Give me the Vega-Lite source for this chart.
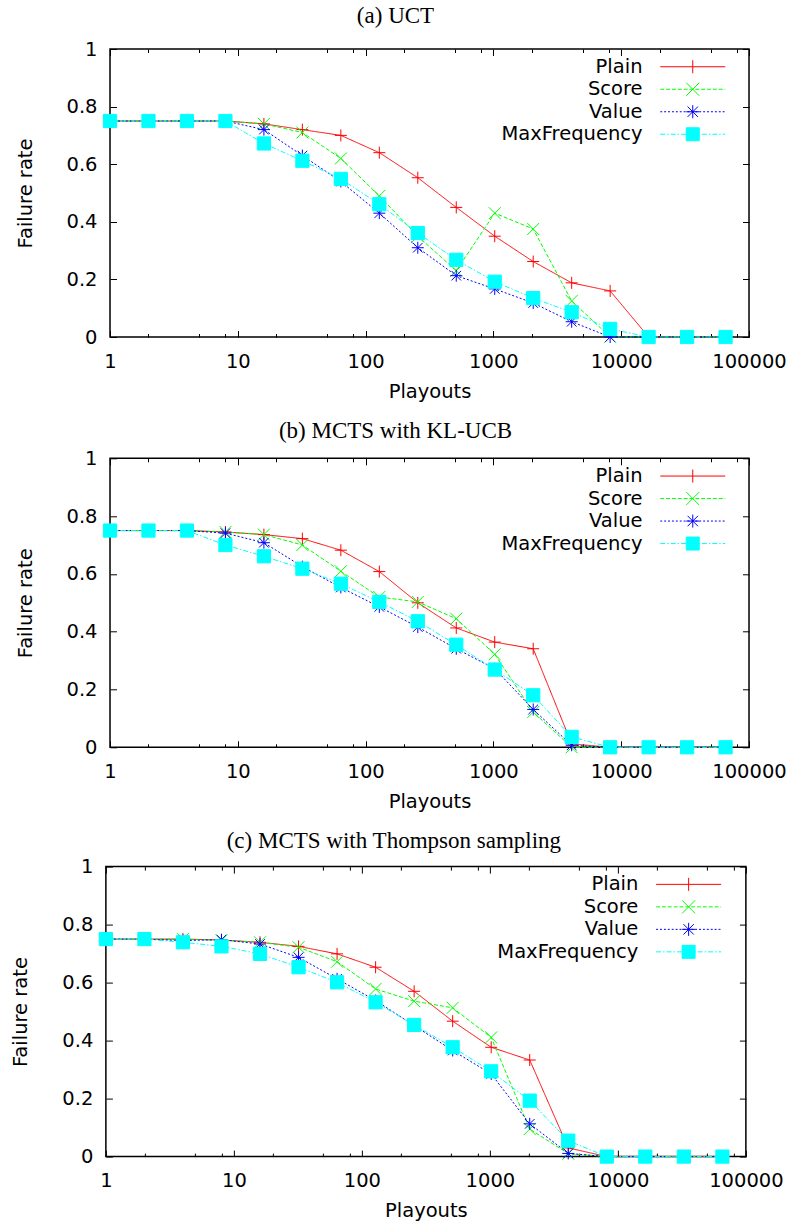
{
  "$schema": "https://vega.github.io/schema/vega-lite/v6.json",
  "background": "white",
  "padding": {"left": 9.5, "top": 4, "right": 0, "bottom": 0},
  "data": {"values": [
    {"panel":"a","series":"Plain","playouts":1,"rate":0.75},{"panel":"a","series":"Plain","playouts":2,"rate":0.75},{"panel":"a","series":"Plain","playouts":4,"rate":0.75},{"panel":"a","series":"Plain","playouts":8,"rate":0.75},{"panel":"a","series":"Plain","playouts":16,"rate":0.74},{"panel":"a","series":"Plain","playouts":32,"rate":0.72},{"panel":"a","series":"Plain","playouts":64,"rate":0.7},{"panel":"a","series":"Plain","playouts":128,"rate":0.64},{"panel":"a","series":"Plain","playouts":256,"rate":0.553},{"panel":"a","series":"Plain","playouts":512,"rate":0.45},{"panel":"a","series":"Plain","playouts":1024,"rate":0.35},{"panel":"a","series":"Plain","playouts":2048,"rate":0.262},{"panel":"a","series":"Plain","playouts":4096,"rate":0.188},{"panel":"a","series":"Plain","playouts":8192,"rate":0.16},{"panel":"a","series":"Plain","playouts":16384,"rate":0},{"panel":"a","series":"Plain","playouts":32768,"rate":0},{"panel":"a","series":"Plain","playouts":65536,"rate":0},
    {"panel":"a","series":"Score","playouts":1,"rate":0.75},{"panel":"a","series":"Score","playouts":2,"rate":0.75},{"panel":"a","series":"Score","playouts":4,"rate":0.75},{"panel":"a","series":"Score","playouts":8,"rate":0.75},{"panel":"a","series":"Score","playouts":16,"rate":0.74},{"panel":"a","series":"Score","playouts":32,"rate":0.71},{"panel":"a","series":"Score","playouts":64,"rate":0.62},{"panel":"a","series":"Score","playouts":128,"rate":0.49},{"panel":"a","series":"Score","playouts":256,"rate":0.35},{"panel":"a","series":"Score","playouts":512,"rate":0.23},{"panel":"a","series":"Score","playouts":1024,"rate":0.43},{"panel":"a","series":"Score","playouts":2048,"rate":0.375},{"panel":"a","series":"Score","playouts":4096,"rate":0.125},{"panel":"a","series":"Score","playouts":8192,"rate":0},{"panel":"a","series":"Score","playouts":16384,"rate":0},{"panel":"a","series":"Score","playouts":32768,"rate":0},{"panel":"a","series":"Score","playouts":65536,"rate":0},
    {"panel":"a","series":"Value","playouts":1,"rate":0.75},{"panel":"a","series":"Value","playouts":2,"rate":0.75},{"panel":"a","series":"Value","playouts":4,"rate":0.75},{"panel":"a","series":"Value","playouts":8,"rate":0.75},{"panel":"a","series":"Value","playouts":16,"rate":0.72},{"panel":"a","series":"Value","playouts":32,"rate":0.63},{"panel":"a","series":"Value","playouts":64,"rate":0.54},{"panel":"a","series":"Value","playouts":128,"rate":0.43},{"panel":"a","series":"Value","playouts":256,"rate":0.31},{"panel":"a","series":"Value","playouts":512,"rate":0.213},{"panel":"a","series":"Value","playouts":1024,"rate":0.167},{"panel":"a","series":"Value","playouts":2048,"rate":0.118},{"panel":"a","series":"Value","playouts":4096,"rate":0.053},{"panel":"a","series":"Value","playouts":8192,"rate":0},{"panel":"a","series":"Value","playouts":16384,"rate":0},{"panel":"a","series":"Value","playouts":32768,"rate":0},{"panel":"a","series":"Value","playouts":65536,"rate":0},
    {"panel":"a","series":"MaxFrequency","playouts":1,"rate":0.75},{"panel":"a","series":"MaxFrequency","playouts":2,"rate":0.75},{"panel":"a","series":"MaxFrequency","playouts":4,"rate":0.75},{"panel":"a","series":"MaxFrequency","playouts":8,"rate":0.75},{"panel":"a","series":"MaxFrequency","playouts":16,"rate":0.672},{"panel":"a","series":"MaxFrequency","playouts":32,"rate":0.612},{"panel":"a","series":"MaxFrequency","playouts":64,"rate":0.549},{"panel":"a","series":"MaxFrequency","playouts":128,"rate":0.461},{"panel":"a","series":"MaxFrequency","playouts":256,"rate":0.361},{"panel":"a","series":"MaxFrequency","playouts":512,"rate":0.268},{"panel":"a","series":"MaxFrequency","playouts":1024,"rate":0.192},{"panel":"a","series":"MaxFrequency","playouts":2048,"rate":0.135},{"panel":"a","series":"MaxFrequency","playouts":4096,"rate":0.086},{"panel":"a","series":"MaxFrequency","playouts":8192,"rate":0.028},{"panel":"a","series":"MaxFrequency","playouts":16384,"rate":0},{"panel":"a","series":"MaxFrequency","playouts":32768,"rate":0},{"panel":"a","series":"MaxFrequency","playouts":65536,"rate":0},
    {"panel":"b","series":"Plain","playouts":1,"rate":0.75},{"panel":"b","series":"Plain","playouts":2,"rate":0.75},{"panel":"b","series":"Plain","playouts":4,"rate":0.75},{"panel":"b","series":"Plain","playouts":8,"rate":0.745},{"panel":"b","series":"Plain","playouts":16,"rate":0.736},{"panel":"b","series":"Plain","playouts":32,"rate":0.722},{"panel":"b","series":"Plain","playouts":64,"rate":0.682},{"panel":"b","series":"Plain","playouts":128,"rate":0.608},{"panel":"b","series":"Plain","playouts":256,"rate":0.5},{"panel":"b","series":"Plain","playouts":512,"rate":0.413},{"panel":"b","series":"Plain","playouts":1024,"rate":0.364},{"panel":"b","series":"Plain","playouts":2048,"rate":0.341},{"panel":"b","series":"Plain","playouts":4096,"rate":0.012},{"panel":"b","series":"Plain","playouts":8192,"rate":0},{"panel":"b","series":"Plain","playouts":16384,"rate":0},{"panel":"b","series":"Plain","playouts":32768,"rate":0},{"panel":"b","series":"Plain","playouts":65536,"rate":0},
    {"panel":"b","series":"Score","playouts":1,"rate":0.75},{"panel":"b","series":"Score","playouts":2,"rate":0.75},{"panel":"b","series":"Score","playouts":4,"rate":0.75},{"panel":"b","series":"Score","playouts":8,"rate":0.745},{"panel":"b","series":"Score","playouts":16,"rate":0.736},{"panel":"b","series":"Score","playouts":32,"rate":0.7},{"panel":"b","series":"Score","playouts":64,"rate":0.609},{"panel":"b","series":"Score","playouts":128,"rate":0.52},{"panel":"b","series":"Score","playouts":256,"rate":0.503},{"panel":"b","series":"Score","playouts":512,"rate":0.445},{"panel":"b","series":"Score","playouts":1024,"rate":0.322},{"panel":"b","series":"Score","playouts":2048,"rate":0.122},{"panel":"b","series":"Score","playouts":4096,"rate":0},{"panel":"b","series":"Score","playouts":8192,"rate":0},{"panel":"b","series":"Score","playouts":16384,"rate":0},{"panel":"b","series":"Score","playouts":32768,"rate":0},{"panel":"b","series":"Score","playouts":65536,"rate":0},
    {"panel":"b","series":"Value","playouts":1,"rate":0.75},{"panel":"b","series":"Value","playouts":2,"rate":0.75},{"panel":"b","series":"Value","playouts":4,"rate":0.75},{"panel":"b","series":"Value","playouts":8,"rate":0.741},{"panel":"b","series":"Value","playouts":16,"rate":0.708},{"panel":"b","series":"Value","playouts":32,"rate":0.625},{"panel":"b","series":"Value","playouts":64,"rate":0.553},{"panel":"b","series":"Value","playouts":128,"rate":0.486},{"panel":"b","series":"Value","playouts":256,"rate":0.416},{"panel":"b","series":"Value","playouts":512,"rate":0.341},{"panel":"b","series":"Value","playouts":1024,"rate":0.272},{"panel":"b","series":"Value","playouts":2048,"rate":0.131},{"panel":"b","series":"Value","playouts":4096,"rate":0.007},{"panel":"b","series":"Value","playouts":8192,"rate":0},{"panel":"b","series":"Value","playouts":16384,"rate":0},{"panel":"b","series":"Value","playouts":32768,"rate":0},{"panel":"b","series":"Value","playouts":65536,"rate":0},
    {"panel":"b","series":"MaxFrequency","playouts":1,"rate":0.75},{"panel":"b","series":"MaxFrequency","playouts":2,"rate":0.75},{"panel":"b","series":"MaxFrequency","playouts":4,"rate":0.75},{"panel":"b","series":"MaxFrequency","playouts":8,"rate":0.7},{"panel":"b","series":"MaxFrequency","playouts":16,"rate":0.661},{"panel":"b","series":"MaxFrequency","playouts":32,"rate":0.618},{"panel":"b","series":"MaxFrequency","playouts":64,"rate":0.566},{"panel":"b","series":"MaxFrequency","playouts":128,"rate":0.503},{"panel":"b","series":"MaxFrequency","playouts":256,"rate":0.436},{"panel":"b","series":"MaxFrequency","playouts":512,"rate":0.355},{"panel":"b","series":"MaxFrequency","playouts":1024,"rate":0.269},{"panel":"b","series":"MaxFrequency","playouts":2048,"rate":0.18},{"panel":"b","series":"MaxFrequency","playouts":4096,"rate":0.036},{"panel":"b","series":"MaxFrequency","playouts":8192,"rate":0},{"panel":"b","series":"MaxFrequency","playouts":16384,"rate":0},{"panel":"b","series":"MaxFrequency","playouts":32768,"rate":0},{"panel":"b","series":"MaxFrequency","playouts":65536,"rate":0},
    {"panel":"c","series":"Plain","playouts":1,"rate":0.75},{"panel":"c","series":"Plain","playouts":2,"rate":0.75},{"panel":"c","series":"Plain","playouts":4,"rate":0.75},{"panel":"c","series":"Plain","playouts":8,"rate":0.747},{"panel":"c","series":"Plain","playouts":16,"rate":0.739},{"panel":"c","series":"Plain","playouts":32,"rate":0.725},{"panel":"c","series":"Plain","playouts":64,"rate":0.699},{"panel":"c","series":"Plain","playouts":128,"rate":0.653},{"panel":"c","series":"Plain","playouts":256,"rate":0.57},{"panel":"c","series":"Plain","playouts":512,"rate":0.467},{"panel":"c","series":"Plain","playouts":1024,"rate":0.377},{"panel":"c","series":"Plain","playouts":2048,"rate":0.333},{"panel":"c","series":"Plain","playouts":4096,"rate":0.03},{"panel":"c","series":"Plain","playouts":8192,"rate":0},{"panel":"c","series":"Plain","playouts":16384,"rate":0},{"panel":"c","series":"Plain","playouts":32768,"rate":0},{"panel":"c","series":"Plain","playouts":65536,"rate":0},
    {"panel":"c","series":"Score","playouts":1,"rate":0.75},{"panel":"c","series":"Score","playouts":2,"rate":0.75},{"panel":"c","series":"Score","playouts":4,"rate":0.75},{"panel":"c","series":"Score","playouts":8,"rate":0.746},{"panel":"c","series":"Score","playouts":16,"rate":0.739},{"panel":"c","series":"Score","playouts":32,"rate":0.722},{"panel":"c","series":"Score","playouts":64,"rate":0.672},{"panel":"c","series":"Score","playouts":128,"rate":0.578},{"panel":"c","series":"Score","playouts":256,"rate":0.536},{"panel":"c","series":"Score","playouts":512,"rate":0.513},{"panel":"c","series":"Score","playouts":1024,"rate":0.411},{"panel":"c","series":"Score","playouts":2048,"rate":0.095},{"panel":"c","series":"Score","playouts":4096,"rate":0.01},{"panel":"c","series":"Score","playouts":8192,"rate":0},{"panel":"c","series":"Score","playouts":16384,"rate":0},{"panel":"c","series":"Score","playouts":32768,"rate":0},{"panel":"c","series":"Score","playouts":65536,"rate":0},
    {"panel":"c","series":"Value","playouts":1,"rate":0.75},{"panel":"c","series":"Value","playouts":2,"rate":0.75},{"panel":"c","series":"Value","playouts":4,"rate":0.745},{"panel":"c","series":"Value","playouts":8,"rate":0.748},{"panel":"c","series":"Value","playouts":16,"rate":0.733},{"panel":"c","series":"Value","playouts":32,"rate":0.687},{"panel":"c","series":"Value","playouts":64,"rate":0.613},{"panel":"c","series":"Value","playouts":128,"rate":0.538},{"panel":"c","series":"Value","playouts":256,"rate":0.452},{"panel":"c","series":"Value","playouts":512,"rate":0.366},{"panel":"c","series":"Value","playouts":1024,"rate":0.285},{"panel":"c","series":"Value","playouts":2048,"rate":0.113},{"panel":"c","series":"Value","playouts":4096,"rate":0.011},{"panel":"c","series":"Value","playouts":8192,"rate":0},{"panel":"c","series":"Value","playouts":16384,"rate":0},{"panel":"c","series":"Value","playouts":32768,"rate":0},{"panel":"c","series":"Value","playouts":65536,"rate":0},
    {"panel":"c","series":"MaxFrequency","playouts":1,"rate":0.75},{"panel":"c","series":"MaxFrequency","playouts":2,"rate":0.75},{"panel":"c","series":"MaxFrequency","playouts":4,"rate":0.739},{"panel":"c","series":"MaxFrequency","playouts":8,"rate":0.725},{"panel":"c","series":"MaxFrequency","playouts":16,"rate":0.699},{"panel":"c","series":"MaxFrequency","playouts":32,"rate":0.653},{"panel":"c","series":"MaxFrequency","playouts":64,"rate":0.601},{"panel":"c","series":"MaxFrequency","playouts":128,"rate":0.532},{"panel":"c","series":"MaxFrequency","playouts":256,"rate":0.454},{"panel":"c","series":"MaxFrequency","playouts":512,"rate":0.377},{"panel":"c","series":"MaxFrequency","playouts":1024,"rate":0.294},{"panel":"c","series":"MaxFrequency","playouts":2048,"rate":0.193},{"panel":"c","series":"MaxFrequency","playouts":4096,"rate":0.055},{"panel":"c","series":"MaxFrequency","playouts":8192,"rate":0},{"panel":"c","series":"MaxFrequency","playouts":16384,"rate":0},{"panel":"c","series":"MaxFrequency","playouts":32768,"rate":0},{"panel":"c","series":"MaxFrequency","playouts":65536,"rate":0}
  ]},
  "bounds": "full",
  "center": true,
  "spacing": 17.3,
  "vconcat": [
    {
      "title": {"text": "(a) UCT", "offset": 11.2},
      "width": 639, "height": 288,
      "transform": [{"filter": "datum.panel === 'a'"}],
      "layer": [
        {
          "mark": {"type": "line", "strokeWidth": 1, "opacity": 1},
          "encoding": {
            "x": {"field": "playouts", "type": "quantitative", "scale": {"type": "log", "domain": [1, 100000], "nice": false},
                  "axis": {"orient": "bottom", "values": [1, 10, 100, 1000, 10000, 100000], "format": "d", "title": "Playouts", "tickSize": -6.5, "labelPadding": 21.5, "titlePadding": 11.5}},
            "y": {"field": "rate", "type": "quantitative", "scale": {"domain": [0, 1], "nice": false},
                  "axis": {"orient": "left", "values": [0, 0.2, 0.4, 0.6, 0.8, 1], "format": "~g", "title": "Failure rate", "tickSize": -6.5, "labelPadding": 19.5, "titlePadding": 31}},
            "color": {"field": "series", "type": "nominal", "scale": {"domain": ["Plain", "Score", "Value", "MaxFrequency"], "range": ["#ff0000", "#00ff00", "#0000ff", "#00ffff"]}, "legend": null},
            "strokeDash": {"field": "series", "type": "nominal", "scale": {"domain": ["Plain", "Score", "Value", "MaxFrequency"], "range": [[1, 0], [4, 2], [2, 2], [5, 2, 1.5, 2]]}, "legend": null}
          }
        },
        {
          "mark": {"type": "point", "filled": true, "opacity": 1, "size": 144, "strokeWidth": 1},
          "encoding": {
            "x": {"field": "playouts", "type": "quantitative", "axis": {"orient": "top", "values": [1, 10, 100, 1000, 10000, 100000], "labels": false, "title": null, "tickSize": -6.5}},
            "y": {"field": "rate", "type": "quantitative", "axis": {"orient": "right", "values": [0, 0.2, 0.4, 0.6, 0.8, 1], "labels": false, "title": null, "tickSize": -6.5}},
            "shape": {"field": "series", "type": "nominal", "scale": {"domain": ["Plain", "Score", "Value", "MaxFrequency"], "range": ["M-1,0L1,0M0,-1L0,1", "M-1,-1L1,1M-1,1L1,-1", "M-1,0L1,0M0,-1L0,1M-0.8,-0.8L0.8,0.8M-0.8,0.8L0.8,-0.8", "M-1.1,-1.1L1.1,-1.1L1.1,1.1L-1.1,1.1Z"]}, "legend": null},
            "fill": {"field": "series", "type": "nominal", "scale": {"domain": ["Plain", "Score", "Value", "MaxFrequency"], "range": ["#ff0000", "#00ff00", "#0000ff", "#00ffff"]}, "legend": null},
            "stroke": {"field": "series", "type": "nominal", "scale": {"domain": ["Plain", "Score", "Value", "MaxFrequency"], "range": ["#ff0000", "#00ff00", "#0000ff", "#00ffff"]}, "legend": null}
          }
        },
        {
          "transform": [{"filter": "false"}],
          "mark": {"type": "point", "filled": true, "opacity": 1, "strokeWidth": 1},
          "encoding": {
            "x": {"field": "playouts", "type": "quantitative", "axis": {"orient": "bottom", "values": [2, 5, 8, 20, 50, 80, 200, 500, 800, 2000, 5000, 8000, 20000, 50000, 80000], "labels": false, "title": null, "tickSize": -3.5}},
            "y": {"field": "rate", "type": "quantitative", "axis": null},
            "shape": {"field": "series", "type": "nominal",
                      "scale": {"domain": ["Plain", "Score", "Value", "MaxFrequency"], "range": [
                        "M-5,0L5,0M0,-1L0,1",
                        "M-5,0L-4.4,0M-4.1,0L-3.5,0M-3.2,0L-2.6,0M-2.3,0L-1.7,0M-1.4,0L-0.8,0M-0.5,0L0.1,0M0.4,0L1,0M1.3,0L1.9,0M2.2,0L2.8,0M3.1,0L3.7,0M4,0L4.6,0M4.9,0L5,0M-1,-1L1,1M-1,1L1,-1",
                        "M-5,0L-4.7,0M-4.4,0L-4.1,0M-3.8,0L-3.5,0M-3.2,0L-2.9,0M-2.6,0L-2.3,0M-2,0L-1.7,0M-1.4,0L-1.1,0M-0.8,0L-0.5,0M-0.2,0L0.1,0M0.4,0L0.7,0M1,0L1.3,0M1.6,0L1.9,0M2.2,0L2.5,0M2.8,0L3.1,0M3.4,0L3.7,0M4,0L4.3,0M4.6,0L4.9,0M-1,0L1,0M0,-1L0,1M-0.8,-0.8L0.8,0.8M-0.8,0.8L0.8,-0.8",
                        "M-5,0L-4.23,0M-3.93,0L-3.7,0M-3.4,0L-2.63,0M-2.33,0L-2.1,0M-1.8,0L-1.03,0M-0.73,0L-0.5,0M-0.2,0L0.57,0M0.87,0L1.1,0M1.4,0L2.17,0M2.47,0L2.7,0M3,0L3.77,0M4.07,0L4.3,0M4.6,0L5,0M-1,-1L1,-1L1,1L-1,1Z"
                      ]},
                      "legend": {"title": null, "orient": "none", "legendX": 573, "legendY": 8}},
            "fill": {"field": "series", "type": "nominal", "scale": {"domain": ["Plain", "Score", "Value", "MaxFrequency"], "range": ["transparent", "transparent", "transparent", "#00ffff"]},
                     "legend": {"title": null, "orient": "none", "legendX": 573, "legendY": 8}},
            "stroke": {"field": "series", "type": "nominal", "scale": {"domain": ["Plain", "Score", "Value", "MaxFrequency"], "range": ["#ff0000", "#00ff00", "#0000ff", "#00ffff"]},
                       "legend": {"title": null, "orient": "none", "legendX": 573, "legendY": 8}}
          }
        },
        {
          "transform": [{"filter": "false"}],
          "mark": {"type": "point"},
          "encoding": {
            "x": {"field": "playouts", "type": "quantitative", "axis": {"orient": "top", "values": [2, 5, 8, 20, 50, 80, 200, 500, 800, 2000, 5000, 8000, 20000, 50000, 80000], "labels": false, "title": null, "tickSize": -3.5}},
            "y": {"field": "rate", "type": "quantitative", "axis": null}
          }
        }
      ],
      "resolve": {"scale": {"shape": "independent", "fill": "independent", "stroke": "independent"}, "legend": {"shape": "independent", "fill": "independent", "stroke": "independent"}, "axis": {"x": "independent", "y": "independent"}}
    },
    {
      "title": {"text": "(b) MCTS with KL-UCB", "offset": 5.2},
      "width": 639, "height": 289,
      "transform": [{"filter": "datum.panel === 'b'"}],
      "layer": [
        {
          "mark": {"type": "line", "strokeWidth": 1, "opacity": 1},
          "encoding": {
            "x": {"field": "playouts", "type": "quantitative", "scale": {"type": "log", "domain": [1, 100000], "nice": false},
                  "axis": {"orient": "bottom", "values": [1, 10, 100, 1000, 10000, 100000], "format": "d", "title": "Playouts", "tickSize": -6.5, "labelPadding": 21.5, "titlePadding": 11.5}},
            "y": {"field": "rate", "type": "quantitative", "scale": {"domain": [0, 1], "nice": false},
                  "axis": {"orient": "left", "values": [0, 0.2, 0.4, 0.6, 0.8, 1], "format": "~g", "title": "Failure rate", "tickSize": -6.5, "labelPadding": 19.5, "titlePadding": 31}},
            "color": {"field": "series", "type": "nominal", "scale": {"domain": ["Plain", "Score", "Value", "MaxFrequency"], "range": ["#ff0000", "#00ff00", "#0000ff", "#00ffff"]}, "legend": null},
            "strokeDash": {"field": "series", "type": "nominal", "scale": {"domain": ["Plain", "Score", "Value", "MaxFrequency"], "range": [[1, 0], [4, 2], [2, 2], [5, 2, 1.5, 2]]}, "legend": null}
          }
        },
        {
          "mark": {"type": "point", "filled": true, "opacity": 1, "size": 144, "strokeWidth": 1},
          "encoding": {
            "x": {"field": "playouts", "type": "quantitative", "axis": {"orient": "top", "values": [1, 10, 100, 1000, 10000, 100000], "labels": false, "title": null, "tickSize": -6.5}},
            "y": {"field": "rate", "type": "quantitative", "axis": {"orient": "right", "values": [0, 0.2, 0.4, 0.6, 0.8, 1], "labels": false, "title": null, "tickSize": -6.5}},
            "shape": {"field": "series", "type": "nominal", "scale": {"domain": ["Plain", "Score", "Value", "MaxFrequency"], "range": ["M-1,0L1,0M0,-1L0,1", "M-1,-1L1,1M-1,1L1,-1", "M-1,0L1,0M0,-1L0,1M-0.8,-0.8L0.8,0.8M-0.8,0.8L0.8,-0.8", "M-1.1,-1.1L1.1,-1.1L1.1,1.1L-1.1,1.1Z"]}, "legend": null},
            "fill": {"field": "series", "type": "nominal", "scale": {"domain": ["Plain", "Score", "Value", "MaxFrequency"], "range": ["#ff0000", "#00ff00", "#0000ff", "#00ffff"]}, "legend": null},
            "stroke": {"field": "series", "type": "nominal", "scale": {"domain": ["Plain", "Score", "Value", "MaxFrequency"], "range": ["#ff0000", "#00ff00", "#0000ff", "#00ffff"]}, "legend": null}
          }
        },
        {
          "transform": [{"filter": "false"}],
          "mark": {"type": "point", "filled": true, "opacity": 1, "strokeWidth": 1},
          "encoding": {
            "x": {"field": "playouts", "type": "quantitative", "axis": {"orient": "bottom", "values": [2, 5, 8, 20, 50, 80, 200, 500, 800, 2000, 5000, 8000, 20000, 50000, 80000], "labels": false, "title": null, "tickSize": -3.5}},
            "y": {"field": "rate", "type": "quantitative", "axis": null},
            "shape": {"field": "series", "type": "nominal",
                      "scale": {"domain": ["Plain", "Score", "Value", "MaxFrequency"], "range": [
                        "M-5,0L5,0M0,-1L0,1",
                        "M-5,0L-4.4,0M-4.1,0L-3.5,0M-3.2,0L-2.6,0M-2.3,0L-1.7,0M-1.4,0L-0.8,0M-0.5,0L0.1,0M0.4,0L1,0M1.3,0L1.9,0M2.2,0L2.8,0M3.1,0L3.7,0M4,0L4.6,0M4.9,0L5,0M-1,-1L1,1M-1,1L1,-1",
                        "M-5,0L-4.7,0M-4.4,0L-4.1,0M-3.8,0L-3.5,0M-3.2,0L-2.9,0M-2.6,0L-2.3,0M-2,0L-1.7,0M-1.4,0L-1.1,0M-0.8,0L-0.5,0M-0.2,0L0.1,0M0.4,0L0.7,0M1,0L1.3,0M1.6,0L1.9,0M2.2,0L2.5,0M2.8,0L3.1,0M3.4,0L3.7,0M4,0L4.3,0M4.6,0L4.9,0M-1,0L1,0M0,-1L0,1M-0.8,-0.8L0.8,0.8M-0.8,0.8L0.8,-0.8",
                        "M-5,0L-4.23,0M-3.93,0L-3.7,0M-3.4,0L-2.63,0M-2.33,0L-2.1,0M-1.8,0L-1.03,0M-0.73,0L-0.5,0M-0.2,0L0.57,0M0.87,0L1.1,0M1.4,0L2.17,0M2.47,0L2.7,0M3,0L3.77,0M4.07,0L4.3,0M4.6,0L5,0M-1,-1L1,-1L1,1L-1,1Z"
                      ]},
                      "legend": {"title": null, "orient": "none", "legendX": 573, "legendY": 8}},
            "fill": {"field": "series", "type": "nominal", "scale": {"domain": ["Plain", "Score", "Value", "MaxFrequency"], "range": ["transparent", "transparent", "transparent", "#00ffff"]},
                     "legend": {"title": null, "orient": "none", "legendX": 573, "legendY": 8}},
            "stroke": {"field": "series", "type": "nominal", "scale": {"domain": ["Plain", "Score", "Value", "MaxFrequency"], "range": ["#ff0000", "#00ff00", "#0000ff", "#00ffff"]},
                       "legend": {"title": null, "orient": "none", "legendX": 573, "legendY": 8}}
          }
        },
        {
          "transform": [{"filter": "false"}],
          "mark": {"type": "point"},
          "encoding": {
            "x": {"field": "playouts", "type": "quantitative", "axis": {"orient": "top", "values": [2, 5, 8, 20, 50, 80, 200, 500, 800, 2000, 5000, 8000, 20000, 50000, 80000], "labels": false, "title": null, "tickSize": -3.5}},
            "y": {"field": "rate", "type": "quantitative", "axis": null}
          }
        }
      ],
      "resolve": {"scale": {"shape": "independent", "fill": "independent", "stroke": "independent"}, "legend": {"shape": "independent", "fill": "independent", "stroke": "independent"}, "axis": {"x": "independent", "y": "independent"}}
    },
    {
      "title": {"text": "(c) MCTS with Thompson sampling", "dx": -32, "offset": 3.2},
      "width": 640, "height": 290,
      "transform": [{"filter": "datum.panel === 'c'"}],
      "layer": [
        {
          "mark": {"type": "line", "strokeWidth": 1, "opacity": 1},
          "encoding": {
            "x": {"field": "playouts", "type": "quantitative", "scale": {"type": "log", "domain": [1, 100000], "nice": false},
                  "axis": {"orient": "bottom", "values": [1, 10, 100, 1000, 10000, 100000], "format": "d", "title": "Playouts", "tickSize": -6.5, "labelPadding": 21.5, "titlePadding": 11.5}},
            "y": {"field": "rate", "type": "quantitative", "scale": {"domain": [0, 1], "nice": false},
                  "axis": {"orient": "left", "values": [0, 0.2, 0.4, 0.6, 0.8, 1], "format": "~g", "title": "Failure rate", "tickSize": -6.5, "labelPadding": 19.5, "titlePadding": 31}},
            "color": {"field": "series", "type": "nominal", "scale": {"domain": ["Plain", "Score", "Value", "MaxFrequency"], "range": ["#ff0000", "#00ff00", "#0000ff", "#00ffff"]}, "legend": null},
            "strokeDash": {"field": "series", "type": "nominal", "scale": {"domain": ["Plain", "Score", "Value", "MaxFrequency"], "range": [[1, 0], [4, 2], [2, 2], [5, 2, 1.5, 2]]}, "legend": null}
          }
        },
        {
          "mark": {"type": "point", "filled": true, "opacity": 1, "size": 144, "strokeWidth": 1},
          "encoding": {
            "x": {"field": "playouts", "type": "quantitative", "axis": {"orient": "top", "values": [1, 10, 100, 1000, 10000, 100000], "labels": false, "title": null, "tickSize": -6.5}},
            "y": {"field": "rate", "type": "quantitative", "axis": {"orient": "right", "values": [0, 0.2, 0.4, 0.6, 0.8, 1], "labels": false, "title": " ", "titleFontSize": 10, "titlePadding": 34, "tickSize": -6.5}},
            "shape": {"field": "series", "type": "nominal", "scale": {"domain": ["Plain", "Score", "Value", "MaxFrequency"], "range": ["M-1,0L1,0M0,-1L0,1", "M-1,-1L1,1M-1,1L1,-1", "M-1,0L1,0M0,-1L0,1M-0.8,-0.8L0.8,0.8M-0.8,0.8L0.8,-0.8", "M-1.1,-1.1L1.1,-1.1L1.1,1.1L-1.1,1.1Z"]}, "legend": null},
            "fill": {"field": "series", "type": "nominal", "scale": {"domain": ["Plain", "Score", "Value", "MaxFrequency"], "range": ["#ff0000", "#00ff00", "#0000ff", "#00ffff"]}, "legend": null},
            "stroke": {"field": "series", "type": "nominal", "scale": {"domain": ["Plain", "Score", "Value", "MaxFrequency"], "range": ["#ff0000", "#00ff00", "#0000ff", "#00ffff"]}, "legend": null}
          }
        },
        {
          "transform": [{"filter": "false"}],
          "mark": {"type": "point", "filled": true, "opacity": 1, "strokeWidth": 1},
          "encoding": {
            "x": {"field": "playouts", "type": "quantitative", "axis": {"orient": "bottom", "values": [2, 5, 8, 20, 50, 80, 200, 500, 800, 2000, 5000, 8000, 20000, 50000, 80000], "labels": false, "title": null, "tickSize": -3.5}},
            "y": {"field": "rate", "type": "quantitative", "axis": null},
            "shape": {"field": "series", "type": "nominal",
                      "scale": {"domain": ["Plain", "Score", "Value", "MaxFrequency"], "range": [
                        "M-5,0L5,0M0,-1L0,1",
                        "M-5,0L-4.4,0M-4.1,0L-3.5,0M-3.2,0L-2.6,0M-2.3,0L-1.7,0M-1.4,0L-0.8,0M-0.5,0L0.1,0M0.4,0L1,0M1.3,0L1.9,0M2.2,0L2.8,0M3.1,0L3.7,0M4,0L4.6,0M4.9,0L5,0M-1,-1L1,1M-1,1L1,-1",
                        "M-5,0L-4.7,0M-4.4,0L-4.1,0M-3.8,0L-3.5,0M-3.2,0L-2.9,0M-2.6,0L-2.3,0M-2,0L-1.7,0M-1.4,0L-1.1,0M-0.8,0L-0.5,0M-0.2,0L0.1,0M0.4,0L0.7,0M1,0L1.3,0M1.6,0L1.9,0M2.2,0L2.5,0M2.8,0L3.1,0M3.4,0L3.7,0M4,0L4.3,0M4.6,0L4.9,0M-1,0L1,0M0,-1L0,1M-0.8,-0.8L0.8,0.8M-0.8,0.8L0.8,-0.8",
                        "M-5,0L-4.23,0M-3.93,0L-3.7,0M-3.4,0L-2.63,0M-2.33,0L-2.1,0M-1.8,0L-1.03,0M-0.73,0L-0.5,0M-0.2,0L0.57,0M0.87,0L1.1,0M1.4,0L2.17,0M2.47,0L2.7,0M3,0L3.77,0M4.07,0L4.3,0M4.6,0L5,0M-1,-1L1,-1L1,1L-1,1Z"
                      ]},
                      "legend": {"title": null, "orient": "none", "legendX": 573, "legendY": 8}},
            "fill": {"field": "series", "type": "nominal", "scale": {"domain": ["Plain", "Score", "Value", "MaxFrequency"], "range": ["transparent", "transparent", "transparent", "#00ffff"]},
                     "legend": {"title": null, "orient": "none", "legendX": 573, "legendY": 8}},
            "stroke": {"field": "series", "type": "nominal", "scale": {"domain": ["Plain", "Score", "Value", "MaxFrequency"], "range": ["#ff0000", "#00ff00", "#0000ff", "#00ffff"]},
                       "legend": {"title": null, "orient": "none", "legendX": 573, "legendY": 8}}
          }
        },
        {
          "transform": [{"filter": "false"}],
          "mark": {"type": "point"},
          "encoding": {
            "x": {"field": "playouts", "type": "quantitative", "axis": {"orient": "top", "values": [2, 5, 8, 20, 50, 80, 200, 500, 800, 2000, 5000, 8000, 20000, 50000, 80000], "labels": false, "title": null, "tickSize": -3.5}},
            "y": {"field": "rate", "type": "quantitative", "axis": null}
          }
        }
      ],
      "resolve": {"scale": {"shape": "independent", "fill": "independent", "stroke": "independent"}, "legend": {"shape": "independent", "fill": "independent", "stroke": "independent"}, "axis": {"x": "independent", "y": "independent"}}
    }
  ],
  "config": {
    "view": {"stroke": "black", "strokeWidth": 1.5},
    "axis": {"domain": false, "grid": false, "labelFlush": false, "labelFont": "DejaVu Sans", "labelFontSize": 19.5, "labelColor": "black", "titleFont": "DejaVu Sans", "titleFontSize": 19.5, "titleFontWeight": "normal", "titleColor": "black", "tickColor": "black", "tickWidth": 1},
    "legend": {"labelAlign": "right", "labelOffset": -60, "symbolSize": 169, "symbolStrokeWidth": 1, "symbolOpacity": 1, "rowPadding": 1.5, "labelFont": "DejaVu Sans", "labelFontSize": 19.5, "labelColor": "black", "labelLimit": 0},
    "title": {"font": "Liberation Serif", "fontSize": 23, "fontWeight": "normal", "color": "black", "anchor": "middle", "dx": -34}
  }
}
